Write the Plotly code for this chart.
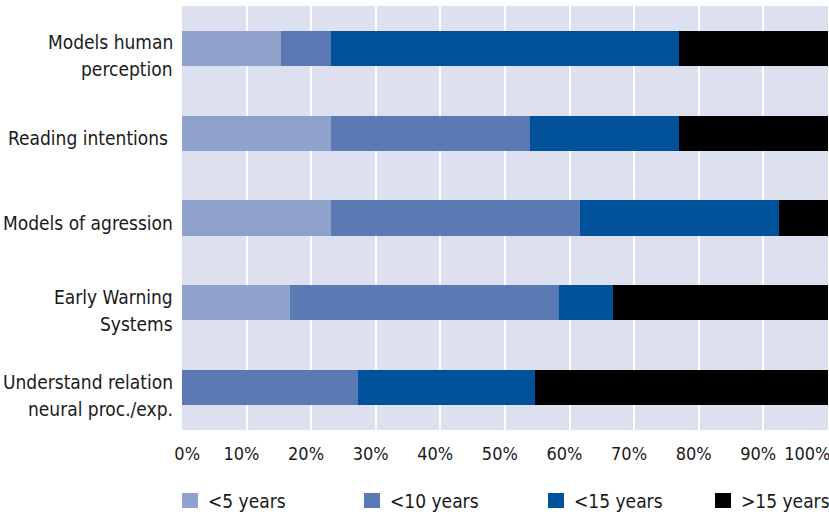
import plotly.graph_objects as go

categories = ["Models human<br>perception", "Reading intentions\u00a0", "Models of agression",
              "Early Warning<br>Systems", "Understand relation<br>neural proc./exp."]
series_names = ["<5 years", "<10 years", "<15 years", ">15 years"]
lt5 = [15.4, 23.1, 23.1, 16.7, 0.0]
lt10 = [7.7, 30.8, 38.5, 41.7, 27.3]
lt15 = [53.8, 23.1, 30.8, 8.3, 27.3]
gt15 = [23.1, 23.1, 7.7, 33.3, 45.5]
colors = ["#8fa2cc", "#5b7ab3", "#00529b", "#000000"]
tick_vals = [0, 10, 20, 30, 40, 50, 60, 70, 80, 90, 100]
tick_text = [f"{v}%" for v in tick_vals]
legend_x_px = [182, 364, 548, 715]

FONT = "DejaVu Sans Condensed, Liberation Sans Narrow, Roboto, sans-serif"
TXT = "#1a1a1a"
W, H = 829, 516
ML, MR, MT, MB = 182, 1, 6, 86
PW, PH = W - ML - MR, H - MT - MB

# label placement: labels sit slightly left of gridlines, edge labels kept inside
label_pos = []
for v in tick_vals:
    if v == 0:
        label_pos.append(v + 0.8)
    elif v == 100:
        label_pos.append(v - 3.2)
    else:
        label_pos.append(v - 0.8)

fig = go.Figure()
for name, vals, col in zip(series_names, [lt5, lt10, lt15, gt15], colors):
    fig.add_trace(go.Bar(y=categories, x=vals, name=name, orientation="h",
                         marker=dict(color=col, line=dict(width=0)), showlegend=False))

# category labels, one text per line with wider line spacing
LINE = 27
for cat in categories:
    lines = cat.split("<br>")
    n = len(lines)
    for i, ln in enumerate(lines):
        off = 4.5 + 3 * (n - 1) + (i - (n - 1) / 2) * LINE
        fig.add_annotation(text=ln, xref="paper", yref="y", x=0, y=cat,
                           xanchor="right", yanchor="middle", xshift=-7, yshift=-off,
                           showarrow=False, font=dict(size=19, family=FONT, color=TXT))

# manual legend (squares + labels) below the plot
for name, col, px in zip(series_names, colors, legend_x_px):
    x0 = (px - ML) / PW
    x1 = (px + 16 - ML) / PW
    y0 = (MT + PH - 508) / PH
    y1 = (MT + PH - 493) / PH
    fig.add_shape(type="rect", xref="paper", yref="paper", x0=x0, x1=x1, y0=y0, y1=y1,
                  fillcolor=col, line=dict(width=0))
    fig.add_annotation(text=name, xref="paper", yref="paper",
                       x=(px + 24 - ML) / PW, y=(MT + PH - 500.5) / PH,
                       xanchor="left", yanchor="middle", showarrow=False,
                       font=dict(size=19, family=FONT, color=TXT))

fig.update_layout(
    barmode="stack",
    bargap=0.587,
    width=W, height=H,
    margin=dict(l=ML, r=MR, t=MT, b=MB, autoexpand=False),
    paper_bgcolor="white",
    plot_bgcolor="#dde0ef",
    font=dict(family=FONT, size=19, color=TXT),
    showlegend=False,
    xaxis=dict(range=[0, 100], tickmode="array", tickvals=label_pos, ticktext=tick_text,
               showgrid=False, zeroline=False,
               minor=dict(tickmode="array", tickvals=tick_vals, showgrid=True,
                          gridcolor="white", gridwidth=2, ticks=""),
               tickfont=dict(size=18), ticks="", showline=False, automargin=False,
               ticklabeloverflow="allow", ticklabelstandoff=11),
    yaxis=dict(autorange="reversed", showgrid=False, ticks="", showticklabels=False,
               automargin=False),
)

fig.write_html("out.html", config={"displayModeBar": False},
               post_script="document.body.style.margin='0';document.body.style.overflow='hidden';")
